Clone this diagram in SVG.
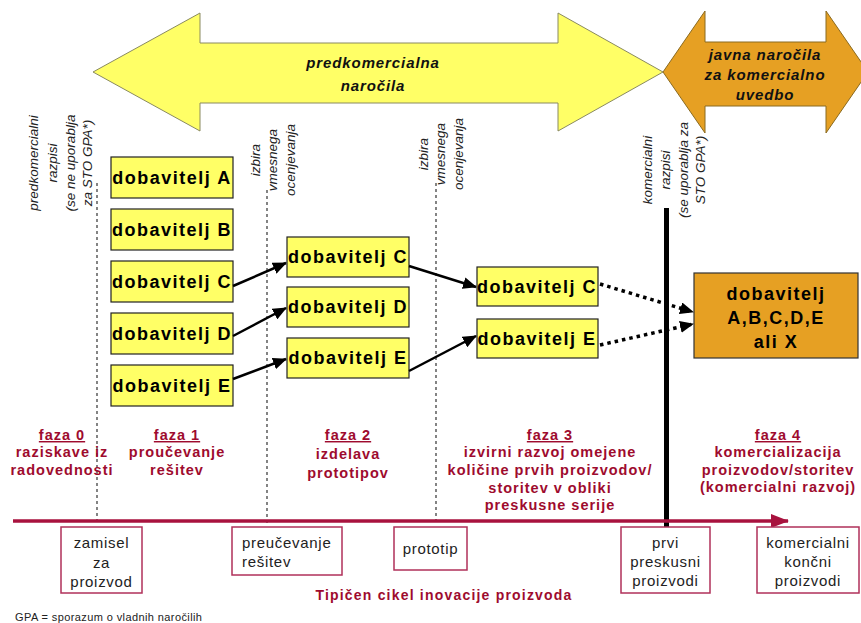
<svg xmlns="http://www.w3.org/2000/svg" width="861" height="623" viewBox="0 0 861 623">
<defs>
<style>
.sup{fill:#ffff66;stroke:#222;stroke-width:1.2}
.st{font-family:"Liberation Sans",Arial,sans-serif;font-weight:bold;font-size:18px;letter-spacing:1.5px;fill:#000;text-anchor:middle}
.rot{font-family:"Liberation Sans",Arial,sans-serif;font-style:italic;font-size:13.5px;fill:#222;text-anchor:middle}
.ph{font-family:"Liberation Sans",Arial,sans-serif;font-weight:bold;font-size:14.5px;letter-spacing:1px;fill:#9e0b2e;text-anchor:middle}
.box{fill:#fff;stroke:#b0305a;stroke-width:1.5}
.bt{font-family:"Liberation Sans",Arial,sans-serif;font-size:15px;letter-spacing:0.7px;fill:#222;text-anchor:middle}
.ban{font-family:"Liberation Sans",Arial,sans-serif;font-weight:bold;font-style:italic;font-size:15px;letter-spacing:0.9px;fill:#111;text-anchor:middle}
.dash{stroke:#333;stroke-width:1.2;stroke-dasharray:3 3;fill:none}
.arr{stroke:#000;stroke-width:2.5;fill:none}
.dot{stroke:#000;stroke-width:3.5;stroke-dasharray:3.5 4;fill:none}
</style>
<marker id="ah" markerUnits="userSpaceOnUse" markerWidth="14" markerHeight="12" refX="13" refY="6" orient="auto">
<path d="M0,0 L14,6 L0,12 Z" fill="#000"/>
</marker>
<marker id="rh" markerUnits="userSpaceOnUse" markerWidth="18" markerHeight="14" refX="17" refY="7" orient="auto">
<path d="M0,0 L18,7 L0,14 Z" fill="#a8123e"/>
</marker>
</defs>

<g id="banner-pre">
<path d="M93,72 L200,13 L200,43 L558,43 L558,13 L663,72 L558,131 L558,103 L200,103 L200,131 Z" fill="#ffff66" stroke="#8a8a60" stroke-width="1"/>
<text class="ban" font-size="17" x="373" y="68">predkomercialna</text>
<text class="ban" font-size="17" x="373" y="91">naročila</text>
</g>

<g id="banner-com">
<path d="M663,72 L705,11 L705,42 L826,42 L826,11 L868,72 L826,133 L826,106 L705,106 L705,133 Z" fill="#e6a023" stroke="#8a6a20" stroke-width="1"/>
<text class="ban" x="765" y="60">javna naročila</text>
<text class="ban" x="765" y="80">za komercialno</text>
<text class="ban" x="765" y="100">uvedbo</text>
</g>

<g id="rotated-labels">
<text class="rot" transform="rotate(-90 38 163)" x="38" y="163">predkomercialni</text>
<text class="rot" transform="rotate(-90 57 163)" x="57" y="163">razpisi</text>
<text class="rot" transform="rotate(-90 75 163)" x="75" y="163">(se ne uporablja</text>
<text class="rot" transform="rotate(-90 92 163)" x="92" y="163">za STO GPA*)</text>
<text class="rot" transform="rotate(-90 260 160)" x="260" y="160">izbira</text>
<text class="rot" transform="rotate(-90 277 160)" x="277" y="160">vmesnega</text>
<text class="rot" transform="rotate(-90 295 160)" x="295" y="160">ocenjevanja</text>
<text class="rot" transform="rotate(-90 428 154)" x="428" y="154">izbira</text>
<text class="rot" transform="rotate(-90 445 154)" x="445" y="154">vmesnega</text>
<text class="rot" transform="rotate(-90 463 154)" x="463" y="154">ocenjevanja</text>
<text class="rot" transform="rotate(-90 652 170)" x="652" y="170">komercialni</text>
<text class="rot" transform="rotate(-90 670 170)" x="670" y="170">razpisi</text>
<text class="rot" transform="rotate(-90 688 170)" x="688" y="170">(se uporablja za</text>
<text class="rot" transform="rotate(-90 705 170)" x="705" y="170">STO GPA*)</text>
</g>

<g id="dividers">
<line class="dash" x1="97" y1="183" x2="97" y2="524"/>
<line class="dash" x1="267" y1="190" x2="267" y2="524"/>
<line class="dash" x1="436" y1="183" x2="436" y2="524"/>
<line x1="666.5" y1="208" x2="666.5" y2="541" stroke="#000" stroke-width="5"/>
</g>

<g id="s1A"><rect class="sup" x="111" y="157" width="122" height="41"/><text class="st" x="172" y="184">dobavitelj A</text></g>
<g id="s1B"><rect class="sup" x="111" y="209" width="122" height="41"/><text class="st" x="172" y="236">dobavitelj B</text></g>
<g id="s1C"><rect class="sup" x="111" y="261" width="122" height="41"/><text class="st" x="172" y="288">dobavitelj C</text></g>
<g id="s1D"><rect class="sup" x="111" y="313" width="122" height="41"/><text class="st" x="172" y="340">dobavitelj D</text></g>
<g id="s1E"><rect class="sup" x="111" y="365" width="122" height="41"/><text class="st" x="172" y="392">dobavitelj E</text></g>

<g id="s2C"><rect class="sup" x="287" y="237" width="122" height="40"/><text class="st" x="348" y="263">dobavitelj C</text></g>
<g id="s2D"><rect class="sup" x="287" y="287" width="122" height="40"/><text class="st" x="348" y="313">dobavitelj D</text></g>
<g id="s2E"><rect class="sup" x="287" y="338" width="122" height="40"/><text class="st" x="348" y="364">dobavitelj E</text></g>

<g id="s3C"><rect class="sup" x="477" y="267" width="121" height="39"/><text class="st" x="537" y="293">dobavitelj C</text></g>
<g id="s3E"><rect class="sup" x="477" y="319" width="121" height="39"/><text class="st" x="537" y="345">dobavitelj E</text></g>

<g id="winner">
<rect x="694" y="273" width="164" height="85" fill="#e6a023" stroke="#333" stroke-width="1.2"/>
<text class="st" x="776" y="300">dobavitelj</text>
<text class="st" x="776" y="324">A,B,C,D,E</text>
<text class="st" x="776" y="348">ali X</text>
</g>

<g id="connectors">
<line class="arr" x1="233" y1="286" x2="286" y2="263" marker-end="url(#ah)"/>
<line class="arr" x1="233" y1="336" x2="286" y2="308" marker-end="url(#ah)"/>
<line class="arr" x1="233" y1="379" x2="286" y2="359" marker-end="url(#ah)"/>
<line class="arr" x1="409" y1="266" x2="476" y2="287" marker-end="url(#ah)"/>
<line class="arr" x1="409" y1="371" x2="476" y2="336" marker-end="url(#ah)"/>
<line class="dot" x1="600" y1="284" x2="693" y2="312" marker-end="url(#ah)"/>
<line class="dot" x1="600" y1="345" x2="693" y2="324" marker-end="url(#ah)"/>
</g>

<g id="phases">
<text class="ph" x="62" y="440" text-decoration="underline">faza 0</text>
<text class="ph" x="62" y="457">raziskave iz</text>
<text class="ph" x="62" y="475">radovednosti</text>
<text class="ph" x="177" y="440" text-decoration="underline">faza 1</text>
<text class="ph" x="177" y="457">proučevanje</text>
<text class="ph" x="177" y="475">rešitev</text>
<text class="ph" x="348" y="440" text-decoration="underline">faza 2</text>
<text class="ph" x="348" y="459">izdelava</text>
<text class="ph" x="348" y="478">prototipov</text>
<text class="ph" x="550" y="440" text-decoration="underline">faza 3</text>
<text class="ph" x="550" y="457">izvirni razvoj omejene</text>
<text class="ph" x="550" y="475">količine prvih proizvodov/</text>
<text class="ph" x="550" y="493">storitev v obliki</text>
<text class="ph" x="550" y="510">preskusne serije</text>
<text class="ph" x="778" y="440" text-decoration="underline">faza 4</text>
<text class="ph" x="778" y="457">komercializacija</text>
<text class="ph" x="778" y="475">proizvodov/storitev</text>
<text class="ph" x="778" y="492">(komercialni razvoj)</text>
</g>

<g id="timeline">
<line x1="13" y1="521" x2="788" y2="521" stroke="#a8123e" stroke-width="3.5" marker-end="url(#rh)"/>
</g>

<g id="m1"><rect class="box" x="61" y="527" width="81" height="66"/>
<text class="bt" x="101.5" y="548">zamisel</text><text class="bt" x="101.5" y="568">za</text><text class="bt" x="101.5" y="587">proizvod</text></g>
<g id="m2"><rect class="box" x="232" y="527" width="110" height="48"/>
<text class="bt" x="242" y="548" text-anchor="start" style="text-anchor:start">preučevanje</text><text class="bt" x="242" y="567" style="text-anchor:start">rešitev</text></g>
<g id="m3"><rect class="box" x="394" y="527" width="73" height="43"/>
<text class="bt" x="430.5" y="554">prototip</text></g>
<g id="m4"><rect class="box" x="621" y="527" width="89" height="66"/>
<text class="bt" x="665.5" y="548">prvi</text><text class="bt" x="665.5" y="567">preskusni</text><text class="bt" x="665.5" y="586">proizvodi</text></g>
<g id="m5"><rect class="box" x="757" y="527" width="102" height="66"/>
<text class="bt" x="808" y="548">komercialni</text><text class="bt" x="808" y="567">končni</text><text class="bt" x="808" y="586">proizvodi</text></g>

<text class="ph" x="444" y="600" font-size="14" style="font-size:14px;letter-spacing:1.2px">Tipičen cikel inovacije proizvoda</text>
<text x="15" y="621" font-family="Liberation Sans, Arial, sans-serif" font-size="11" letter-spacing="0.4" fill="#222">GPA = sporazum o vladnih naročilih</text>
</svg>
